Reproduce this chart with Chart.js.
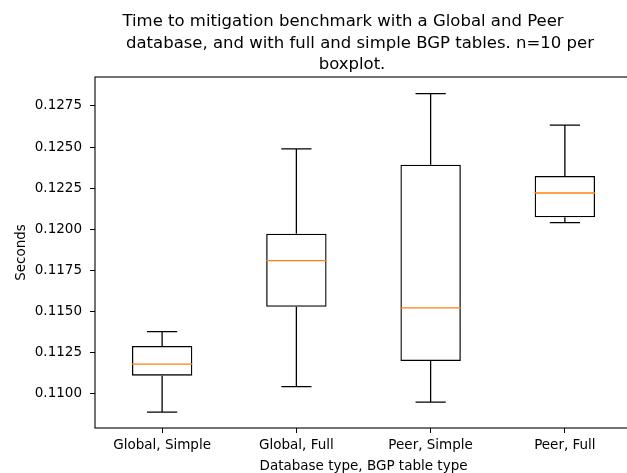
<!DOCTYPE html>
<html>
<head>
<meta charset="utf-8">
<script src="https://cdn.jsdelivr.net/npm/chart.js@4/dist/chart.umd.min.js"></script>
<style>
    html, body { margin: 0; padding: 0; background: #fff; overflow: hidden; }
    #wrap { width: 640px; height: 473px; }
</style>
</head>
<body>
<div id="wrap"><canvas id="boxChart" width="640" height="473"></canvas></div>
<script>
// DATA (seconds)
const categories = ['Global, Simple', 'Global, Full', 'Peer, Simple', 'Peer, Full'];
const whiskerLow  = [0.10889, 0.11044, 0.10950, 0.12041];
const q1          = [0.11111, 0.11530, 0.11200, 0.12074];
const median      = [0.11181, 0.11810, 0.11523, 0.12221];
const q3          = [0.11292, 0.11974, 0.12393, 0.12325];
const whiskerHigh = [0.11379, 0.12489, 0.12825, 0.12633];
const yTicks = [0.1100, 0.1125, 0.1150, 0.1175, 0.1200, 0.1225, 0.1250, 0.1275];
const titleLines = [
    'Time to mitigation benchmark with a Global and Peer',
    'database, and with full and simple BGP tables. n=10 per',
    'boxplot.'
];

const FONT = 'DejaVu Sans';

// whiskers, caps, medians, frame and title
const boxExtras = {
    id: 'boxExtras',
    afterDatasetsDraw(chart) {
        const c = chart.ctx;
        const xs = chart.scales.x;
        const ys = chart.scales.y;
        const area = chart.chartArea;

        c.save();
        c.lineWidth = 1.3;
        categories.forEach(function (name, i) {
            const xc = xs.getPixelForValue(i + 1);
            const capHalf = Math.abs(xs.getPixelForValue(i + 1.1125) - xc);
            const boxHalf = Math.abs(xs.getPixelForValue(i + 1.225) - xc);

            c.strokeStyle = '#000';
            c.beginPath();
            c.moveTo(xc, ys.getPixelForValue(q1[i]));
            c.lineTo(xc, ys.getPixelForValue(whiskerLow[i]));
            c.moveTo(xc, ys.getPixelForValue(q3[i]));
            c.lineTo(xc, ys.getPixelForValue(whiskerHigh[i]));
            c.moveTo(xc - capHalf, ys.getPixelForValue(whiskerLow[i]));
            c.lineTo(xc + capHalf, ys.getPixelForValue(whiskerLow[i]));
            c.moveTo(xc - capHalf, ys.getPixelForValue(whiskerHigh[i]));
            c.lineTo(xc + capHalf, ys.getPixelForValue(whiskerHigh[i]));
            c.stroke();

            c.strokeStyle = '#ff7f0e';
            c.beginPath();
            c.moveTo(xc - boxHalf, ys.getPixelForValue(median[i]));
            c.lineTo(xc + boxHalf, ys.getPixelForValue(median[i]));
            c.stroke();
        });

        c.strokeStyle = '#000';
        c.lineWidth = 1.1;
        c.strokeRect(area.left, area.top, area.right - area.left, area.bottom - area.top);

        c.fillStyle = '#000';
        c.font = '16.5px "' + FONT + '"';
        c.textBaseline = 'alphabetic';
        c.textAlign = 'center';
        const centers = [343, 360, 352];
        titleLines.forEach(function (line, k) {
            c.fillText(line, centers[k], 26 + k * 21.5);
        });
        c.restore();
    }
};

const ctx = document.getElementById('boxChart');

new Chart(ctx, {
    type: 'bar',
    data: {
        datasets: [{
            data: categories.map(function (name, i) {
                return { x: i + 1, y: [q1[i], q3[i]] };
            }),
            backgroundColor: 'rgba(0,0,0,0)',
            borderColor: '#000',
            borderWidth: 1.3,
            borderSkipped: false,
            barPercentage: 0.45,
            categoryPercentage: 1.0
        }]
    },
    options: {
        responsive: false,
        animation: false,
        layout: {
            padding: { left: 0, top: 77, right: 8, bottom: 0 }
        },
        plugins: {
            legend: { display: false },
            title: { display: false },
            tooltip: { enabled: false }
        },
        scales: {
            x: {
                type: 'linear',
                min: 0.5,
                max: 4.5,
                offset: false,
                afterBuildTicks: function (scale) {
                    scale.ticks = categories.map(function (name, i) { return { value: i + 1 }; });
                },
                afterFit: function (scale) { scale.height = 45; },
                ticks: {
                    autoSkip: false,
                    maxRotation: 0,
                    padding: 4,
                    color: '#000',
                    font: { family: FONT, size: 13.5 },
                    callback: function (value) { return categories[value - 1]; }
                },
                grid: {
                    offset: false,
                    drawOnChartArea: false,
                    drawTicks: true,
                    tickLength: 5,
                    color: '#000'
                },
                border: { display: false },
                title: {
                    display: true,
                    text: 'Database type, BGP table type',
                    color: '#000',
                    font: { family: FONT, size: 13.5 },
                    padding: { top: 0, bottom: -2 }
                }
            },
            y: {
                min: 0.10793,
                max: 0.12926,
                afterBuildTicks: function (scale) {
                    scale.ticks = yTicks.map(function (v) { return { value: v }; });
                },
                afterFit: function (scale) { scale.width = 95; },
                ticks: {
                    padding: 8,
                    color: '#000',
                    font: { family: FONT, size: 13.5 },
                    callback: function (value) { return value.toFixed(4); }
                },
                grid: {
                    drawOnChartArea: false,
                    drawTicks: true,
                    tickLength: 5,
                    color: '#000'
                },
                border: { display: false },
                title: {
                    display: true,
                    text: 'Seconds',
                    color: '#000',
                    font: { family: FONT, size: 13.5 },
                    padding: { top: 13, bottom: 0 }
                }
            }
        }
    },
    plugins: [boxExtras]
});
</script>
</body>
</html>
